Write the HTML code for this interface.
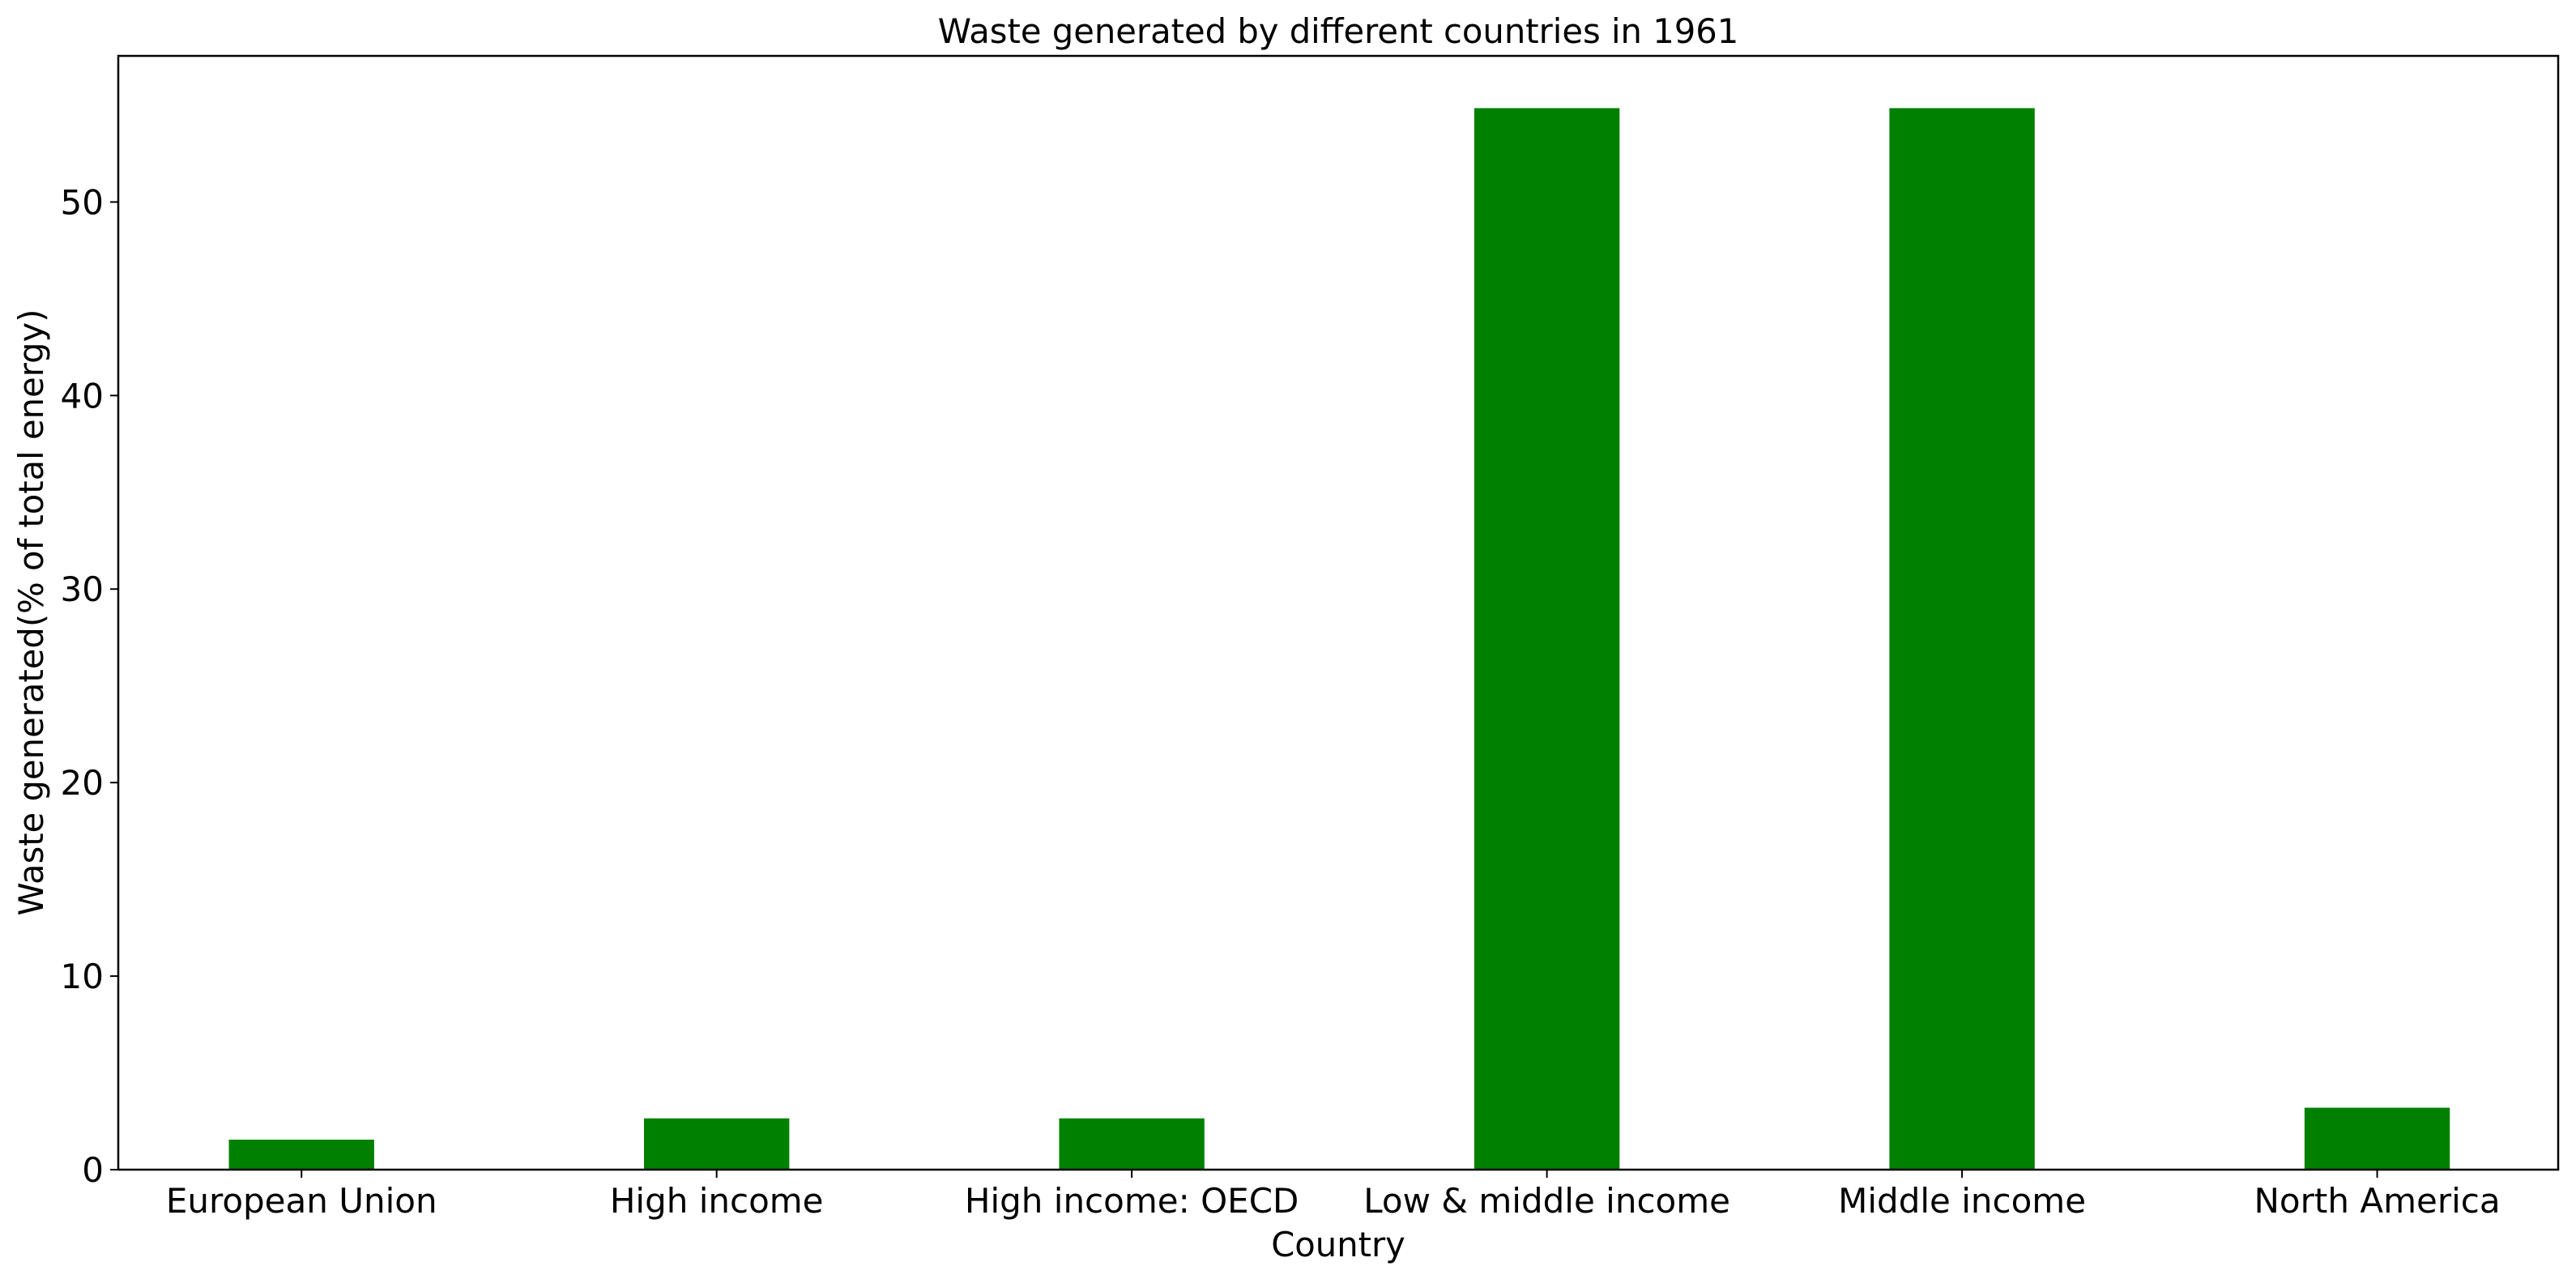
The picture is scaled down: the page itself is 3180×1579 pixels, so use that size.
<!DOCTYPE html>
<html><head><meta charset="utf-8"><style>
html,body{margin:0;padding:0;background:#fff;}
svg{display:block;font-family:"DejaVu Sans","Liberation Sans",sans-serif;}
</style></head><body>
<svg id="chart" width="3180" height="1579" xmlns="http://www.w3.org/2000/svg">
<rect width="3180" height="1579" fill="#fff"/>
<text x="1652" y="53" font-size="41.7" text-anchor="middle">Waste generated by different countries in 1961</text>
<text x="1652" y="1551" font-size="41.7" text-anchor="middle">Country</text>
<text transform="translate(53,756) rotate(-90)" font-size="41.7" text-anchor="middle">Waste generated(% of total energy)</text>
<g id="bars"></g>
<g id="yticks"></g>
<g id="xticks"></g>
<rect x="146" y="69" width="3012" height="1375" fill="none" stroke="#000" stroke-width="2.5"/>
</svg>
<script>
const categories = ["European Union","High income","High income: OECD","Low & middle income","Middle income","North America"];
const values = [1.55, 2.65, 2.65, 54.85, 54.85, 3.2];
const yTicks = [0, 10, 20, 30, 40, 50];

const L=146,R=3158,T=69,B=1444;
const xMin=-0.4414,xMax=5.436,yMin=0,yMax=57.55;
const xs=v=>L+(v-xMin)/(xMax-xMin)*(R-L);
const ys=v=>B-(v-yMin)/(yMax-yMin)*(B-T);
const NS="http://www.w3.org/2000/svg";
const bw=0.35;
const gb=document.getElementById('bars'),gy=document.getElementById('yticks'),gx=document.getElementById('xticks');
values.forEach((v,i)=>{
  const r=document.createElementNS(NS,'rect');
  r.setAttribute('x',xs(i-bw/2));r.setAttribute('width',xs(i+bw/2)-xs(i-bw/2));
  r.setAttribute('y',ys(v));r.setAttribute('height',ys(0)-ys(v));r.setAttribute('fill','#008000');
  
  
  gb.appendChild(r);
  const t=document.createElementNS(NS,'line');
  t.setAttribute('x1',xs(i));t.setAttribute('x2',xs(i));t.setAttribute('y1',B);t.setAttribute('y2',B+10);
  t.setAttribute('stroke','#000');t.setAttribute('stroke-width','2');
  
  
  gx.appendChild(t);
  const tx=document.createElementNS(NS,'text');
  tx.setAttribute('x',xs(i));tx.setAttribute('y',B+53);tx.setAttribute('font-size','42');tx.setAttribute('text-anchor','middle');
  tx.textContent=categories[i];
  
  
  gx.appendChild(tx);
});
yTicks.forEach(v=>{
  const t=document.createElementNS(NS,'line');
  t.setAttribute('x1',L-10);t.setAttribute('x2',L);t.setAttribute('y1',ys(v));t.setAttribute('y2',ys(v));
  t.setAttribute('stroke','#000');t.setAttribute('stroke-width','2');
  
  
  gy.appendChild(t);
  const tx=document.createElementNS(NS,'text');
  tx.setAttribute('x',L-18);tx.setAttribute('y',ys(v)+15);tx.setAttribute('font-size','42');tx.setAttribute('text-anchor','end');
  tx.textContent=v;
  
  
  gy.appendChild(tx);
});
</script>
</body></html>
